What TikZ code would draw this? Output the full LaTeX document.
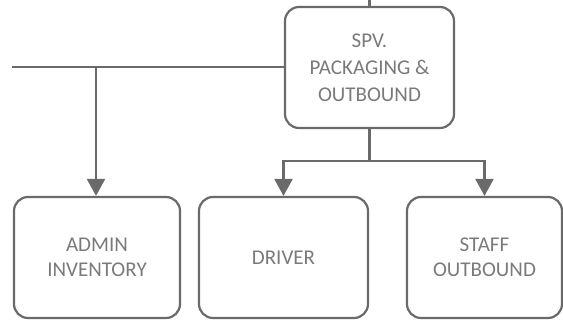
\documentclass[tikz,border=0pt]{standalone}
\usepackage{fontspec}
\setmainfont{Carlito}
\usetikzlibrary{arrows.meta}

\definecolor{linegray}{HTML}{6A6A6A}
\definecolor{textgray}{HTML}{7A7A7A}

\tikzset{
    box/.style={draw=linegray, line width=2.2pt, rounded corners=14pt,
        minimum height=121pt, align=center, text=textgray,
        font=\fontsize{21}{27}\selectfont},
    link/.style={draw=linegray, line width=2.2pt},
    arr/.style={link, -{Triangle[width=18pt, length=17pt]}}
}

\begin{document}
\begin{tikzpicture}[x=1pt, y=-1pt]

    \useasboundingbox (0, 0) rectangle (563, 320);

    %% Org chart, packaging & outbound

    % Head
    \node[box, minimum width=169pt] (spv) at (369.5, 67.5) {SPV.\\PACKAGING \&\\OUTBOUND};

    % Staff
    \node[box, minimum width=166pt, font=\fontsize{21}{25}\selectfont] (adm) at (97, 257.5) {ADMIN\\INVENTORY};
    \node[box, minimum width=169pt] (drv) at (283.5, 257.5) {DRIVER};
    \node[box, minimum width=155pt, font=\fontsize{21}{25}\selectfont] (stf) at (484.5, 257.5) {STAFF\\OUTBOUND};

    % Lines from outside
    \coordinate (top) at (369.5, 0);
    \coordinate (left) at (12, 67);
    \coordinate (jl) at (96, 67);
    \draw[link] (top) -- (spv.north);
    \draw[link] (left) -- (spv.west |- left);
    \draw[arr] (jl) -- (jl |- adm.north);

    % Branch under head
    \draw[link] (spv.south) -- ++(0, 32) coordinate (br);
    \draw[arr] (br) -| (drv.north);
    \draw[arr] (br) -| (stf.north);

\end{tikzpicture}
\end{document}
